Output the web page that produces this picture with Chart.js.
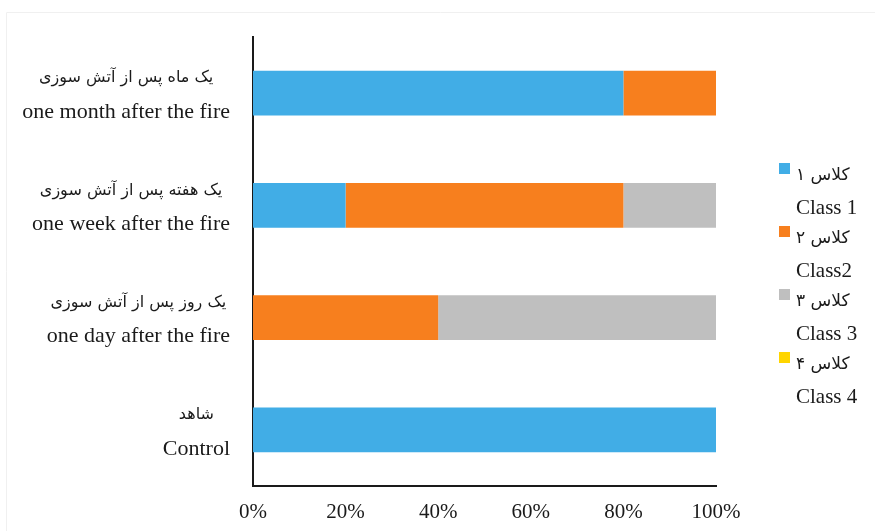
<!DOCTYPE html>
<html>
<head>
<meta charset="utf-8">
<script src="https://cdn.jsdelivr.net/npm/chart.js@4.4.1/dist/chart.umd.min.js"></script>
<style>
  html, body { margin: 0; padding: 0; background: #fff; }
  #wrap { width: 875px; height: 531px; position: relative; }
</style>
</head>
<body>
<div id="wrap"><canvas id="chart"></canvas></div>
<script>
// دسته ها (از بالا به پایین)
const labelsFa = ['یک ماه پس از آتش سوزی', 'یک هفته پس از آتش سوزی', 'یک روز پس از آتش سوزی', 'شاهد'];
const labelsEn = ['one month after the fire', 'one week after the fire', 'one day after the fire', 'Control'];

// درصد هر کلاس
const class1 = [80, 20, 0, 100];
const class2 = [20, 60, 40, 0];
const class3 = [0, 20, 60, 0];
const class4 = [0, 0, 0, 0];

const seriesFa = ['کلاس ۱', 'کلاس ۲', 'کلاس ۳', 'کلاس ۴'];
const seriesEn = ['Class 1', 'Class2', 'Class 3', 'Class 4'];
const colors = ['#41ade6', '#f77f1e', '#bfbfbf', '#ffd500'];

const xTicks = [0, 20, 40, 60, 80, 100];

const serif = '"Liberation Serif", "Times New Roman", "DejaVu Sans", serif';
const faFont = '"DejaVu Sans", "Noto Sans", sans-serif';

// کادر کم رنگ دور تصویر (بالا و چپ)
const framePlugin = {
    id: 'frame',
    beforeDraw(chart) {
        const ctx = chart.ctx;
        ctx.save();
        ctx.strokeStyle = '#f0f0f0';
        ctx.lineWidth = 1;
        ctx.beginPath();
        ctx.moveTo(6.5, chart.height);
        ctx.lineTo(6.5, 12.5);
        ctx.lineTo(chart.width, 12.5);
        ctx.stroke();
        ctx.restore();
    }
};

// برچسب های دو خطی محور عمودی
const yLabelsPlugin = {
    id: 'yLabels',
    afterDraw(chart) {
        const ctx = chart.ctx;
        const y = chart.scales.y;
        const right = 230;
        ctx.save();
        ctx.fillStyle = '#1a1a1a';
        ctx.textBaseline = 'middle';
        ctx.textAlign = 'center';
        labelsFa.forEach((fa, i) => {
            const cy = y.getPixelForValue(i);
            ctx.font = '16px ' + faFont;
            const wFa = ctx.measureText(fa).width;
            ctx.font = '22px ' + serif;
            const wEn = ctx.measureText(labelsEn[i]).width;
            const cx = right - Math.max(wFa, wEn) / 2;
            ctx.fillText(labelsEn[i], cx, cy + 19);
            ctx.font = '16px ' + faFont;
            ctx.direction = 'rtl';
            ctx.fillText(fa, cx, cy - 15);
            ctx.direction = 'ltr';
        });
        ctx.restore();
    }
};

// راهنمای سمت راست
const sideLegendPlugin = {
    id: 'sideLegend',
    afterDraw(chart) {
        const ctx = chart.ctx;
        ctx.save();
        ctx.textBaseline = 'middle';
        chart.data.datasets.forEach((ds, i) => {
            const top = 163 + i * 63;
            ctx.fillStyle = ds.backgroundColor;
            ctx.fillRect(779, top, 11, 11);
            ctx.fillStyle = '#1a1a1a';
            ctx.textAlign = 'left';
            ctx.font = '17px ' + faFont;
            ctx.fillText(seriesFa[i], 796, top + 13);
            ctx.font = '21px ' + serif;
            ctx.fillText(seriesEn[i], 796, top + 45);
        });
        ctx.restore();
    }
};

const datasets = [class1, class2, class3, class4].map((vals, i) => ({
    label: seriesEn[i],
    data: vals,
    backgroundColor: colors[i],
    borderWidth: 0,
    barPercentage: 0.4,
    categoryPercentage: 1
}));

new Chart(document.getElementById('chart'), {
    type: 'bar',
    data: { labels: labelsEn, datasets: datasets },
    options: {
        indexAxis: 'y',
        responsive: true,
        maintainAspectRatio: false,
        animation: false,
        layout: { padding: { top: 37, right: 159, left: 0, bottom: 0 } },
        plugins: {
            legend: { display: false },
            tooltip: { enabled: false }
        },
        scales: {
            x: {
                stacked: true,
                min: 0,
                max: 100,
                afterBuildTicks(scale) {
                    scale.ticks = xTicks.map(v => ({ value: v }));
                },
                afterFit(scale) { scale.height = 45; },
                grid: { display: false, drawTicks: false },
                border: { display: true, color: '#1a1a1a', width: 2 },
                ticks: {
                    padding: 14,
                    color: '#1a1a1a',
                    font: { family: serif, size: 21 },
                    maxRotation: 0,
                    callback: v => v + '%'
                }
            },
            y: {
                stacked: true,
                afterFit(scale) { scale.width = 253; },
                grid: { display: false, drawTicks: false },
                border: { display: true, color: '#1a1a1a', width: 2 },
                ticks: { display: false }
            }
        }
    },
    plugins: [framePlugin, yLabelsPlugin, sideLegendPlugin]
});
</script>
</body>
</html>
